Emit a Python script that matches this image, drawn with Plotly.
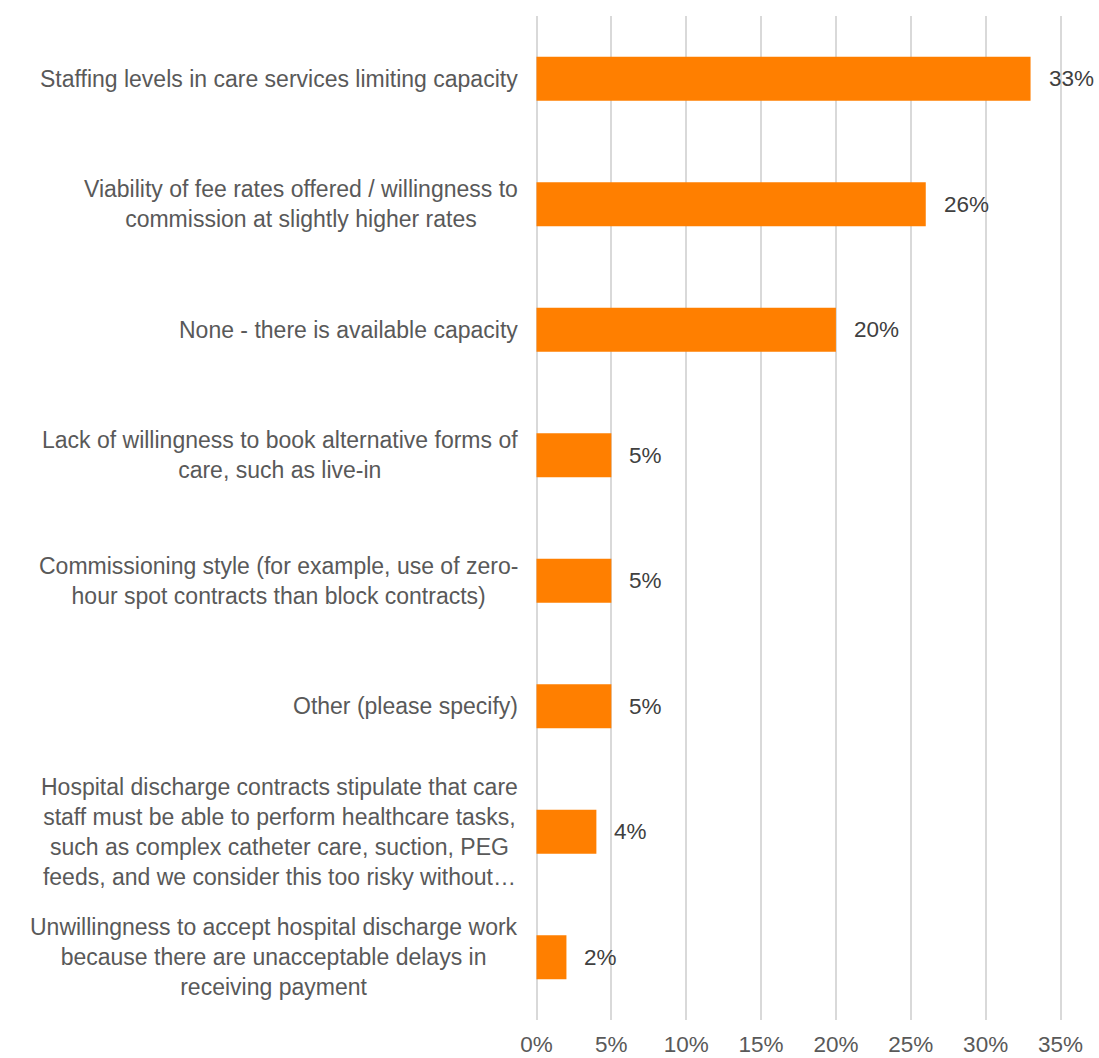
import plotly.graph_objects as go

# Survey responses: barriers to taking on hospital discharge work
categories = [
    "Staffing levels in care services limiting capacity",
    "Viability of fee rates offered / willingness to<br>commission at slightly higher rates",
    "None - there is available capacity",
    "Lack of willingness to book alternative forms of<br>care, such as live-in",
    "Commissioning style (for example, use of zero-<br>hour spot contracts than block contracts)",
    "Other (please specify)",
    "Hospital discharge contracts stipulate that care<br>staff must be able to perform healthcare tasks,<br>such as complex catheter care, suction, PEG<br>feeds, and we consider this too risky without…",
    "Unwillingness to accept hospital discharge work<br>because there are unacceptable delays in<br>receiving payment",
]
percent = [33, 26, 20, 5, 5, 5, 4, 2]

tick_values = [0, 5, 10, 15, 20, 25, 30, 35]
tick_labels = [f"{v}%" for v in tick_values]

BAR_COLOR = "#FF7F00"
LABEL_COLOR = "#595959"
VALUE_COLOR = "#404040"
GRID_COLOR = "#D9D9D9"
FONT = "Liberation Sans, Arial, sans-serif"
SIZE = 23

ids = list(range(len(categories)))

fig = go.Figure(
    go.Bar(
        x=percent,
        y=ids,
        orientation="h",
        marker=dict(color=BAR_COLOR, line=dict(width=0)),
        width=0.35,
        hoverinfo="skip",
    )
)

annotations = []
# Category labels: centred multi-line blocks right-aligned against the plot
for i, cat in enumerate(categories):
    annotations.append(dict(
        x=0, xref="x", y=i, yref="y",
        text=cat, showarrow=False,
        xanchor="right", yanchor="middle", align="center",
        xshift=-17,
        font=dict(family=FONT, size=SIZE, color=LABEL_COLOR),
    ))
# Value labels just past the end of each bar
for i, v in enumerate(percent):
    annotations.append(dict(
        x=v, xref="x", y=i, yref="y",
        text=f"{v}%", showarrow=False,
        xanchor="left", yanchor="middle",
        xshift=16,
        font=dict(family=FONT, size=SIZE - 0.5, color=VALUE_COLOR),
    ))

fig.update_layout(
    width=1099, height=1058,
    margin=dict(l=535, r=37, t=16, b=38),
    paper_bgcolor="white", plot_bgcolor="white",
    showlegend=False,
    annotations=annotations,
    font=dict(family=FONT, color=LABEL_COLOR),
    xaxis=dict(
        range=[-0.1, 35.1],
        tickvals=tick_values, ticktext=tick_labels,
        showgrid=True, gridcolor=GRID_COLOR, gridwidth=1.5,
        zeroline=True, zerolinecolor=GRID_COLOR, zerolinewidth=1.5,
        showline=False, ticks="",
        ticklabelstandoff=8,
        automargin=False,
        tickfont=dict(family=FONT, size=SIZE - 0.5, color=LABEL_COLOR),
        fixedrange=True,
    ),
    yaxis=dict(
        range=[len(categories) - 0.5, -0.5],
        showticklabels=False, showgrid=False, zeroline=False,
        showline=False, ticks="",
        automargin=False,
        fixedrange=True,
    ),
)

fig.write_html("out.html")
